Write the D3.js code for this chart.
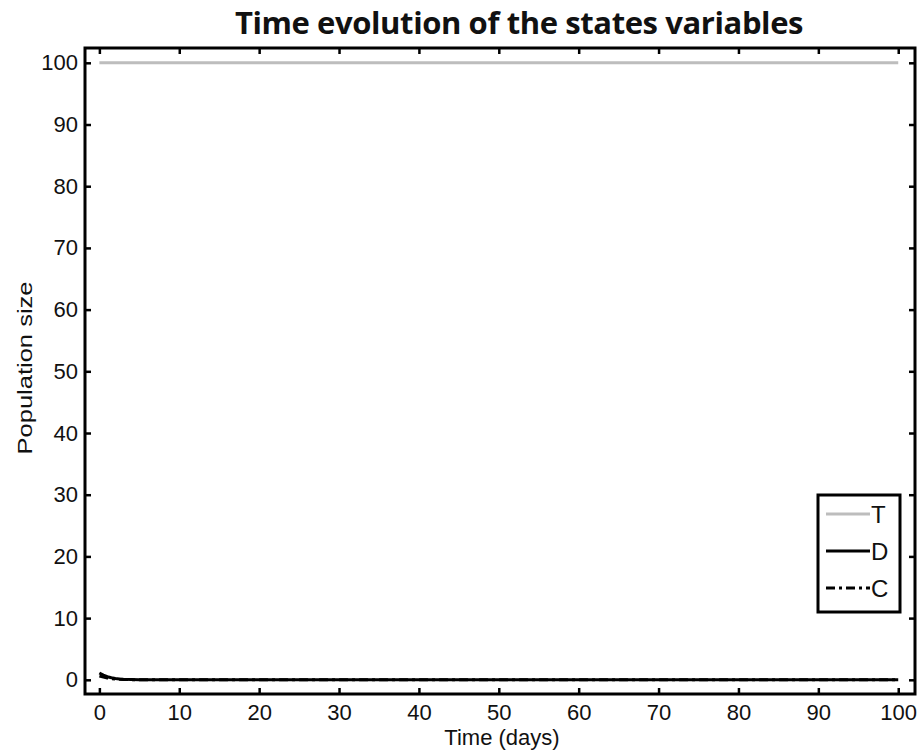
<!DOCTYPE html>
<html>
<head>
<meta charset="utf-8">
<script src="https://cdn.jsdelivr.net/npm/d3@7"></script>
<style>
  body { margin: 0; background: #fff; }
  text { font-family: "Liberation Sans", Arial, sans-serif; fill: #111; }
</style>
</head>
<body>
<script>
// time points (days) and the three state variables
const timeDays = [0, 0.5, 1, 1.5, 2, 2.5, 3, 4, 5, 6, 8, 10, 20, 30, 40, 50, 60, 70, 80, 90, 100];
const seriesT = [100, 100, 100, 100, 100, 100, 100, 100, 100, 100, 100, 100, 100, 100, 100, 100, 100, 100, 100, 100, 100];
const seriesD = [1.1, 0.75, 0.5, 0.33, 0.22, 0.15, 0.1, 0.05, 0.02, 0.01, 0, 0, 0, 0, 0, 0, 0, 0, 0, 0, 0];
const seriesC = [0.6, 0.45, 0.3, 0.2, 0.12, 0.08, 0.05, 0.02, 0.01, 0, 0, 0, 0, 0, 0, 0, 0, 0, 0, 0, 0];
const xTicks = [0, 10, 20, 30, 40, 50, 60, 70, 80, 90, 100];
const yTicks = [0, 10, 20, 30, 40, 50, 60, 70, 80, 90, 100];
const legendNames = ["T", "D", "C"];

const width = 921, height = 754;
const mLeft = 85, mRight = 915, mTop = 48, mBottom = 694;

const svg = d3.select("body").append("svg")
    .attr("width", width)
    .attr("height", height);

const x = d3.scaleLinear().domain([-1.8, 102.1]).range([mLeft, mRight]);
const y = d3.scaleLinear().domain([-2.3, 102.4]).range([mBottom, mTop]);

// title
svg.append("text")
    .attr("x", 519).attr("y", 34)
    .attr("text-anchor", "middle")
    .style("font-family", "'Open Sans', sans-serif")
    .style("font-weight", "bold")
    .style("font-size", "31px")
    .style("letter-spacing", "-0.4px")
    .text("Time evolution of the states variables");

// lines
const series = [
    {name: "T", values: seriesT, color: "#bdbdbd", dash: null, w: 3},
    {name: "D", values: seriesD, color: "#000", dash: null, w: 3},
    {name: "C", values: seriesC, color: "#000", dash: "9,4,3,4", w: 3}
];

const line = d3.line().x((d, i) => x(timeDays[i])).y(d => y(d));

// C under D so the zero line stays solid
const drawOrder = [series[0], series[2], series[1]];
svg.append("g").selectAll("path")
    .data(drawOrder)
    .enter().append("path")
    .attr("d", s => line(s.values))
    .attr("fill", "none")
    .attr("stroke", s => s.color)
    .attr("stroke-width", s => s.w)
    .attr("stroke-dasharray", s => s.dash);

// axes with ticks pointing inward on all four sides
const tickLen = 6;
svg.append("g")
    .attr("transform", `translate(0,${mBottom})`)
    .call(d3.axisBottom(x).tickValues(xTicks).tickSizeInner(-tickLen).tickSizeOuter(0).tickPadding(10))
    .call(g => g.select(".domain").remove());
svg.append("g")
    .attr("transform", `translate(0,${mTop})`)
    .call(d3.axisTop(x).tickValues(xTicks).tickSizeInner(-tickLen).tickSizeOuter(0).tickFormat(""))
    .call(g => g.select(".domain").remove());
svg.append("g")
    .attr("transform", `translate(${mLeft},0)`)
    .call(d3.axisLeft(y).tickValues(yTicks).tickSizeInner(-tickLen).tickSizeOuter(0).tickPadding(7))
    .call(g => g.select(".domain").remove());
svg.append("g")
    .attr("transform", `translate(${mRight},0)`)
    .call(d3.axisRight(y).tickValues(yTicks).tickSizeInner(-tickLen).tickSizeOuter(0).tickFormat(""))
    .call(g => g.select(".domain").remove());

svg.selectAll(".tick line").attr("stroke", "#000").attr("stroke-width", 2.5);
svg.selectAll(".tick text")
    .style("font-family", "'Liberation Sans', Arial, sans-serif")
    .style("font-size", "22px")
    .attr("fill", "#111");

// frame
svg.append("rect")
    .attr("x", mLeft).attr("y", mTop)
    .attr("width", mRight - mLeft).attr("height", mBottom - mTop)
    .attr("fill", "none").attr("stroke", "#000").attr("stroke-width", 3);

// axis labels
svg.append("text")
    .attr("x", 502).attr("y", 745)
    .attr("text-anchor", "middle")
    .style("font-size", "22px")
    .text("Time (days)");
svg.append("text")
    .attr("transform", `translate(32,368) rotate(-90)`)
    .attr("text-anchor", "middle")
    .attr("textLength", 173)
    .attr("lengthAdjust", "spacingAndGlyphs")
    .style("font-size", "20px")
    .text("Population size");

// legend
const legend = svg.append("g");
legend.append("rect")
    .attr("x", 818).attr("y", 495)
    .attr("width", 82).attr("height", 117)
    .attr("fill", "#fff").attr("stroke", "#000").attr("stroke-width", 3);
const ly = d3.scalePoint().domain(legendNames).range([514, 588]);
const items = legend.selectAll("g.item")
    .data(series)
    .enter().append("g").attr("class", "item");
items.append("line")
    .attr("x1", 826).attr("x2", 870)
    .attr("y1", s => ly(s.name)).attr("y2", s => ly(s.name))
    .attr("stroke", s => s.color)
    .attr("stroke-width", s => s.w)
    .attr("stroke-dasharray", s => s.dash);
items.append("text")
    .attr("x", 871).attr("y", s => ly(s.name) + 9)
    .style("font-size", "24px")
    .text(s => s.name);
</script>
</body>
</html>
